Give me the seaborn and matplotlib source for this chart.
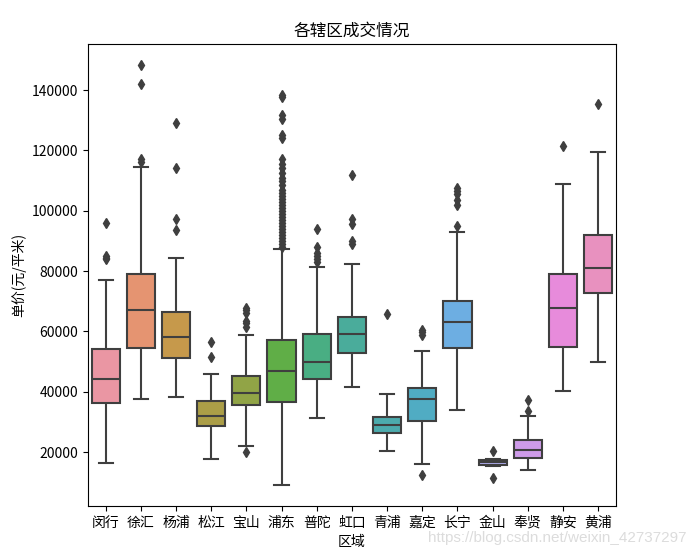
import numpy as np
import pandas as pd
import matplotlib
matplotlib.use('Agg')
import matplotlib.pyplot as plt
import seaborn as sns

plt.rcParams['font.family'] = ['Noto Sans CJK SC', 'DejaVu Sans']

# 各区单价箱线图的统计值
districts = ['闵行', '徐汇', '杨浦', '松江', '宝山', '浦东', '普陀', '虹口',
             '青浦', '嘉定', '长宁', '金山', '奉贤', '静安', '黄浦']
whisker_lo = [16500, 37700, 38400, 17800, 22100, 9100, 31400, 41700,
              20400, 16100, 34000, 15500, 14000, 40300, 50000]
q1 = [36400, 54500, 51300, 28700, 35700, 36700, 44350, 52900,
      26400, 30300, 54500, 15700, 18000, 54900, 72600]
median = [44300, 67200, 58000, 31900, 39700, 47000, 49900, 59300,
          29000, 37700, 63100, 16700, 20800, 67600, 81100]
q3 = [54200, 78900, 66400, 36900, 45250, 57200, 59300, 64900,
      31700, 41400, 70200, 17400, 24100, 78900, 91900]
whisker_hi = [77000, 114500, 84500, 46000, 58900, 87400, 81500, 82400,
              39300, 53500, 92900, 17700, 32100, 108700, 119300]
outliers = [
    [84000, 84500, 85000, 96000],
    [116000, 117000, 142000, 148300],
    [93500, 97400, 114200, 129200],
    [51500, 56500],
    [20100, 61400, 62700, 63500, 66100, 67000, 67800],
    [88000, 89000, 90000, 91000, 92000, 93000, 94000, 95000, 96000, 97000,
     98000, 99000, 100000, 101000, 102000, 103000, 104000, 105000, 106000,
     107000, 108500, 110000, 111000, 112500, 114000, 115500, 117000,
     124200, 125200, 130500, 131800, 137600, 138500],
    [83000, 84000, 85000, 86000, 88000, 94000],
    [89100, 89900, 95600, 97400, 111700],
    [65800],
    [12300, 58900, 59800, 60500],
    [95000, 102000, 103700, 105700, 106500, 107500],
    [11500, 20300],
    [33500, 37300],
    [121400],
    [135500],
]


def box_samples(lo, a, m, b, hi, extra):
    # 构造一组样本, 使其四分位数与须线正好等于读取的统计值
    k = 60
    low_out = [v for v in extra if v < a]
    high_out = [v for v in extra if v > b]
    low = low_out + [lo] * (k - len(low_out))
    high = [hi] * (k - len(high_out)) + high_out
    return low + [a] * 120 + [m] * 121 + [b] * 120 + high


rows = []
for i, name in enumerate(districts):
    vals = box_samples(whisker_lo[i], q1[i], median[i], q3[i], whisker_hi[i], outliers[i])
    rows += [(name, v) for v in vals]
df = pd.DataFrame(rows, columns=['区域', '单价(元/平米)'])

fig, ax = plt.subplots(figsize=(6.95, 5.54), dpi=100)
plt.subplots_adjust(left=0.1266, right=0.886, bottom=0.0866, top=0.9206)

gray = '#3f3f3f'
sns.boxplot(data=df, x='区域', y='单价(元/平米)', hue='区域', order=districts,
            palette=sns.husl_palette(15, l=.7), legend=False, saturation=0.75,
            width=0.8, linecolor=gray, linewidth=1.5,
            flierprops=dict(marker='d', markerfacecolor=gray, markeredgecolor=gray,
                            markersize=5),
            ax=ax)
ax.set_title('各辖区成交情况')

# 水印
fig.text(0.988, 0.029, 'https://blog.csdn.net/weixin_42737297', ha='right', va='center',
         color='#dcdcdc', fontsize=11, family='Liberation Sans')

plt.savefig('out.png', dpi=100)
